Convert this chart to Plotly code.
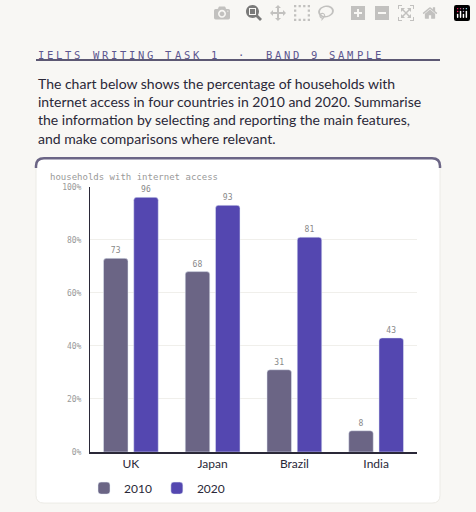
import plotly.graph_objects as go

countries = ["UK", "Japan", "Brazil", "India"]
pct_2010 = [73, 68, 31, 8]
pct_2020 = [96, 93, 81, 43]
y_ticks = [0, 20, 40, 60, 80, 100]
y_tick_text = ["0%", "20%", "40%", "60%", "80%", "100%"]
header = "IELTS WRITING TASK 1  ·  BAND 9 SAMPLE"

W, H = 476, 512
def px(x): return x / W
def py(y): return 1 - y / H

mono = "DejaVu Sans Mono"
sans = "Lato"

fig = go.Figure()
fig.add_trace(go.Bar(x=countries, y=pct_2010, name="2010", marker_color="#6b6585",
                     width=0.3, offset=-0.335, text=pct_2010, textposition="outside",
                     textfont=dict(family=mono, size=8, color="#888")))
fig.add_trace(go.Bar(x=countries, y=pct_2020, name="2020", marker_color="#5447b0",
                     width=0.3, offset=0.035, text=pct_2020, textposition="outside",
                     textfont=dict(family=mono, size=8, color="#888")))

# card background + purple top edge
r = 8
x0, x1, y0, y1 = px(36), px(440), py(508), py(157)
rx, ry = r / W, r / H
fig.add_shape(type="path", xref="paper", yref="paper", layer="below",
              path=f"M {x0},{y0+ry} L {x0},{y1-ry} Q {x0},{y1} {x0+rx},{y1} L {x1-rx},{y1} "
                   f"Q {x1},{y1} {x1},{y1-ry} L {x1},{y0+ry} Q {x1},{y0} {x1-rx},{y0} "
                   f"L {x0+rx},{y0} Q {x0},{y0} {x0},{y0+ry} Z",
              fillcolor="white", line=dict(color="#ecebe6", width=1))
fig.add_shape(type="path", xref="paper", yref="paper",
              path=f"M {x0},{py(167)} L {x0},{y1-ry} Q {x0},{y1} {x0+rx},{y1} L {x1-rx},{y1} "
                   f"Q {x1},{y1} {x1},{y1-ry} L {x1},{py(167)}",
              line=dict(color="#6b6585", width=2.5))
# header rule
fig.add_shape(type="line", xref="paper", yref="paper", x0=px(36), x1=px(440),
              y0=py(57), y1=py(57), line=dict(color="#5c5873", width=2))

# letter-spaced header, one glyph at a time
for i, ch in enumerate(header):
    if ch == " ":
        continue
    fig.add_annotation(x=px(36 + i * 9.1), y=py(44), xref="paper", yref="paper", xanchor="left",
                       showarrow=False, text=ch,
                       font=dict(family=mono, size=10.5, color="#5c5690"))
para = ("The chart below shows the percentage of households with<br>"
        "internet access in four countries in 2010 and 2020. Summarise<br>"
        "the information by selecting and reporting the main features,<br>"
        "and make comparisons where relevant.")
fig.add_annotation(x=px(36), y=py(70), xref="paper", yref="paper", xanchor="left", yanchor="top",
                   align="left", showarrow=False, text=para,
                   font=dict(family=sans, size=14, color="#2a2838"))
fig.add_annotation(x=px(48), y=py(176), xref="paper", yref="paper", xanchor="left",
                   showarrow=False, text="households with internet access",
                   font=dict(family=mono, size=9, color="#999"))

fig.update_layout(
    width=W, height=H, margin=dict(l=0, r=0, t=0, b=0),
    paper_bgcolor="#f8f7f4", plot_bgcolor="white",
    barcornerradius=3, showlegend=True,
    legend=dict(orientation="h", x=px(84), y=py(478), xanchor="left", yanchor="top",
                font=dict(family=sans, size=12, color="#2a2838"), bgcolor="rgba(0,0,0,0)"),
    xaxis=dict(domain=[px(90), px(417)], range=[-0.5, 3.5], showgrid=False,
               showline=True, linecolor="#2a2838", linewidth=1.5, ticks="",
               tickfont=dict(family=sans, size=12, color="#2a2838")),
    yaxis=dict(domain=[py(456), py(186)], range=[0, 100], tickvals=y_ticks, ticktext=y_tick_text,
               showgrid=True, gridcolor="#f0efeb", showline=True, linecolor="#2a2838",
               linewidth=1, zeroline=False, ticks="", ticklabelstandoff=6,
               tickfont=dict(family=mono, size=8, color="#999")),
)
fig.update_traces(cliponaxis=False)
fig.write_html("out.html", post_script="document.body.style.margin='0';document.body.style.overflow='hidden';")
